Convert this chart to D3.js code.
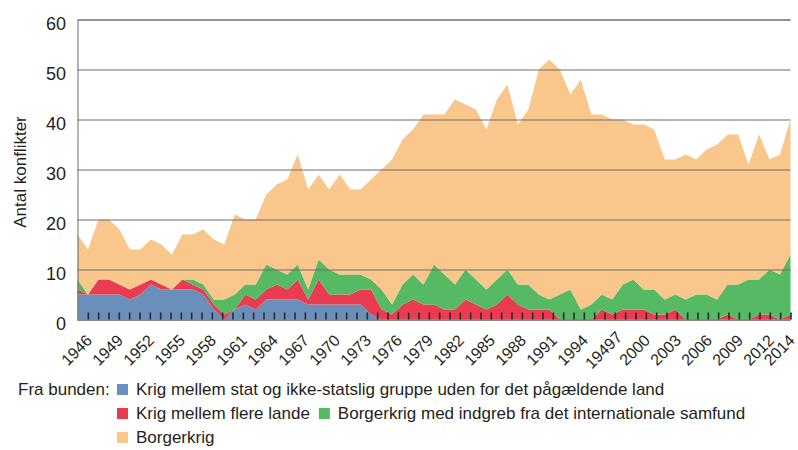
<!DOCTYPE html>
<html>
<head>
<meta charset="utf-8">
<script src="https://cdn.jsdelivr.net/npm/d3@7"></script>
<style>
    body { margin: 0; background: #fff; }
    svg text { font-family: "Liberation Sans", Arial, sans-serif; fill: #231f20; }
</style>
</head>
<body>
<svg id="chart"></svg>
<script>
// Data: number of conflicts per year, by type
const years = d3.range(1946, 2015);

const extrasystemic = [5, 5, 5, 5, 5, 4, 5, 7, 6, 6, 6, 6, 5, 2, 0, 2, 3, 2, 4, 4,
    4, 4, 3, 3, 3, 3, 3, 3, 1, 0, 0, 0, 0, 0, 0, 0, 0, 0, 0, 0,
    0, 0, 0, 0, 0, 0, 0, 0, 0, 0, 0, 0, 0, 0, 0, 0, 0, 0, 0, 0,
    0, 0, 0, 0, 0, 0, 0, 0, 0];

const interstate = [1, 0, 3, 3, 2, 2, 2, 1, 1, 0, 2, 1, 1, 1, 1, 0, 2, 2, 2, 3,
    2, 4, 1, 5, 2, 2, 2, 3, 5, 2, 1, 3, 4, 3, 3, 2, 2, 4, 3, 2,
    3, 5, 3, 2, 2, 2, 0, 0, 0, 0, 2, 1, 2, 2, 2, 1, 1, 2, 0, 0,
    0, 0, 1, 0, 0, 1, 1, 0, 1];

const internationalized = [2, 0, 0, 0, 0, 0, 0, 0, 0, 0, 0, 1, 1, 1, 3, 3, 2, 3, 5, 3,
    3, 3, 2, 4, 5, 4, 4, 3, 2, 4, 2, 4, 5, 4, 8, 7, 5, 6, 5, 4,
    5, 5, 4, 5, 3, 2, 5, 6, 2, 3, 3, 3, 5, 6, 4, 5, 3, 3, 4, 5,
    5, 4, 6, 7, 8, 7, 9, 9, 12];

const intrastate = [9, 9, 12, 12, 11, 8, 7, 8, 8, 7, 9, 9, 11, 12, 11, 16, 13, 13, 14, 17,
    19, 22, 20, 17, 16, 20, 17, 17, 20, 24, 29, 29, 29, 34, 30, 32, 37, 33, 34, 32,
    36, 37, 32, 35, 45, 48, 45, 39, 46, 38, 36, 36, 33, 31, 33, 32, 28, 27, 29, 27,
    29, 31, 30, 30, 23, 29, 22, 24, 27];

const labelYears = [1946, 1949, 1952, 1955, 1958, 1961, 1964, 1967, 1970, 1973, 1976, 1979,
    1982, 1985, 1988, 1991, 1994, 1997, 2000, 2003, 2006, 2009, 2012, 2014];
const labelTexts = ["1946", "1949", "1952", "1955", "1958", "1961", "1964", "1967", "1970", "1973",
    "1976", "1979", "1982", "1985", "1988", "1991", "1994", "19497", "2000", "2003", "2006",
    "2009", "2012", "2014"];

const keys = ["extrasystemic", "interstate", "internationalized", "intrastate"];
const names = ["Krig mellem stat og ikke-statslig gruppe uden for det pågældende land",
    "Krig mellem flere lande",
    "Borgerkrig med indgreb fra det internationale samfund",
    "Borgerkrig"];
const colors = ["#6a8fbb", "#e93c50", "#56b964", "#f9c68b"];

const rows = years.map((year, i) => ({
    year: year,
    extrasystemic: extrasystemic[i],
    interstate: interstate[i],
    internationalized: internationalized[i],
    intrastate: intrastate[i]
}));

const width = 798;
const height = 450;
const plotLeft = 77.5, plotRight = 790.5, plotTop = 19.5, plotBottom = 319.5;
const fontSize = 17;

const svg = d3.select("#chart").attr("width", width).attr("height", height);

// Scales
const xScale = d3.scaleLinear().domain([1946, 2014]).range([plotLeft, plotRight]);
const tickScale = d3.scaleLinear().domain([1946, 2015]).range([plotLeft, plotRight]);
const yScale = d3.scaleLinear().domain([0, 60]).range([plotBottom, plotTop]);
const color = d3.scaleOrdinal().domain(keys).range(colors);

// Stacked areas
const series = d3.stack().keys(keys)(rows);

const area = d3.area()
    .x((d) => xScale(d.data.year))
    .y0((d) => yScale(d[0]))
    .y1((d) => yScale(d[1]));

svg.append("g")
    .selectAll("path")
    .data(series)
    .enter()
    .append("path")
    .attr("d", area)
    .attr("fill", (d) => color(d.key));

// Gridlines and y labels
const yAxis = svg.append("g")
    .attr("transform", `translate(${plotLeft},0)`)
    .call(d3.axisLeft(yScale)
        .tickValues([0, 10, 20, 30, 40, 50, 60])
        .tickSize(-(plotRight - plotLeft))
        .tickPadding(11.5));
yAxis.attr("font-family", null).attr("font-size", null);
yAxis.select(".domain").attr("stroke", "#6a6a6a").attr("stroke-width", 1);
yAxis.selectAll(".tick line").attr("stroke", "#6e6e6e").attr("stroke-width", 1);
yAxis.selectAll(".tick text")
    .attr("font-size", 18)
    .attr("dy", "0.55em")
    .attr("fill", null);

// Bottom axis line and yearly tick marks
svg.append("line")
    .attr("x1", plotLeft).attr("x2", plotRight)
    .attr("y1", plotBottom + 0.5).attr("y2", plotBottom + 0.5)
    .attr("stroke", "#8c8580").attr("stroke-width", 2);

const xAxis = svg.append("g")
    .attr("transform", `translate(0,${plotBottom})`)
    .call(d3.axisBottom(tickScale)
        .tickValues(d3.range(1947, 2016))
        .tickSize(-7)
        .tickFormat(""));
xAxis.select(".domain").remove();
xAxis.selectAll(".tick line").attr("stroke", "#2a2a2a").attr("stroke-width", 1.6);

// Rotated year labels
svg.append("g")
    .selectAll("text")
    .data(labelYears)
    .enter()
    .append("text")
    .attr("transform", (d) => `translate(${tickScale(d) - 1},350) rotate(-45)`)
    .attr("text-anchor", "middle")
    .attr("dy", "0.35em")
    .attr("font-size", 16)
    .text((d, i) => labelTexts[i]);

// Y axis title
svg.append("text")
    .attr("transform", "translate(26,172) rotate(-90)")
    .attr("text-anchor", "middle")
    .attr("font-size", fontSize)
    .text("Antal konflikter");

// Legend
const legend = svg.append("g").attr("font-size", fontSize);
legend.append("text").attr("x", 18).attr("y", 395).text("Fra bunden:");

const legendRows = [[0], [1, 2], [3]];
legendRows.forEach((items, r) => {
    const baseline = 395 + r * 24;
    let xPos = 117;
    items.forEach((k) => {
        legend.append("rect")
            .attr("x", xPos)
            .attr("y", baseline - 11)
            .attr("width", 11)
            .attr("height", 11)
            .attr("fill", colors[k]);
        const label = legend.append("text")
            .attr("x", xPos + 19)
            .attr("y", baseline)
            .text(names[k]);
        xPos += 19 + label.node().getComputedTextLength() + 9;
    });
});
</script>
</body>
</html>
